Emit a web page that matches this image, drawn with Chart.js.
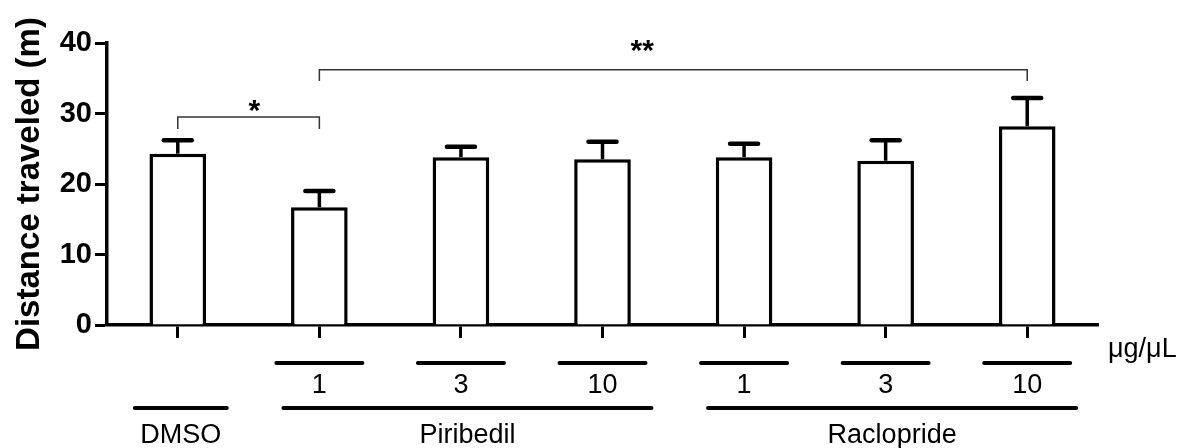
<!DOCTYPE html>
<html>
<head>
<meta charset="utf-8">
<script src="https://cdn.jsdelivr.net/npm/chart.js@4.4.0/dist/chart.umd.min.js"></script>
<style>body{margin:0;background:#fff}</style>
</head>
<body>
<canvas id="chart" width="1184" height="448"></canvas>
<script>
'use strict'
// values
const categories = ['DMSO', 'Piribedil 1', 'Piribedil 3', 'Piribedil 10', 'Raclopride 1', 'Raclopride 3', 'Raclopride 10'];
const doses = ['', '1', '3', '10', '1', '3', '10'];
const means = [24.3, 16.7, 23.8, 23.5, 23.8, 23.3, 28.2];
const sems = [1.9, 2.3, 1.5, 2.5, 1.9, 2.9, 4.0];
const groups = ['DMSO', 'Piribedil', 'Raclopride'];
const groupFirst = [0, 1, 4];
const groupLast = [0, 3, 6];
const yTicks = [0, 10, 20, 30, 40];
const unitLabel = 'μg/μL';
// significance brackets (in data units)
const sigFrom = [0, 1];
const sigTo = [1, 6];
const sigTop = [29.5, 36.2];
const sigFoot = [27.8, 34.6];
const sigLabel = ['*', '**'];
const sigLabelAt = [0.54, 3.28];
const sigLabelY = [29.1, 37.6];

const FONT = '"Liberation Sans", Arial, Helvetica, sans-serif';

function stroke(ctx, pts, w, color, cap) {
    ctx.save();
    ctx.beginPath();
    ctx.lineWidth = w;
    ctx.strokeStyle = color;
    ctx.lineCap = cap || 'butt';
    ctx.moveTo(pts[0], pts[1]);
    for (let i = 2; i < pts.length; i += 2) ctx.lineTo(pts[i], pts[i + 1]);
    ctx.stroke();
    ctx.restore();
}

const extras = {
    id: 'extras',
    afterDatasetsDraw(chart) {
        const ctx = chart.ctx;
        const x = chart.scales.x;
        const y = chart.scales.y;

        // error bars (upper only)
        means.forEach((m, i) => {
            const cx = x.getPixelForValue(i);
            const top = y.getPixelForValue(m + sems[i]);
            stroke(ctx, [cx, y.getPixelForValue(m), cx, top], 3.5, '#000');
            stroke(ctx, [cx - 14, top, cx + 14, top], 4.5, '#000', 'round');
        });

        // brackets
        sigFrom.forEach((f, i) => {
            const x1 = x.getPixelForValue(f);
            const x2 = x.getPixelForValue(sigTo[i]);
            const yt = y.getPixelForValue(sigTop[i]);
            const yf = y.getPixelForValue(sigFoot[i]);
            stroke(ctx, [x1, yf, x1, yt, x2, yt, x2, yf], 1.5, '#333');
            ctx.save();
            ctx.font = 'bold 30px ' + FONT;
            ctx.fillStyle = '#000';
            ctx.textAlign = 'center';
            ctx.textBaseline = 'alphabetic';
            ctx.fillText(sigLabel[i], x.getPixelForValue(sigLabelAt[i]), y.getPixelForValue(sigLabelY[i]));
            ctx.restore();
        });

        // labels below the axis
        const base = y.getPixelForValue(0);
        ctx.save();
        ctx.font = '27px ' + FONT;
        ctx.fillStyle = '#000';
        ctx.textAlign = 'center';
        ctx.textBaseline = 'alphabetic';
        doses.forEach((d, i) => {
            if (!d) return;
            const cx = x.getPixelForValue(i);
            stroke(ctx, [cx - 43, base + 38, cx + 43, base + 38], 4, '#000', 'round');
            ctx.fillText(d, cx, base + 68);
        });
        groups.forEach((g, i) => {
            const x1 = x.getPixelForValue(groupFirst[i]) - (groupFirst[i] === 0 ? 43 : 36);
            const x2 = x.getPixelForValue(groupLast[i]) + 49;
            stroke(ctx, [x1, base + 83, x2, base + 83], 4, '#000', 'round');
            ctx.fillText(g, (x1 + x2) / 2, base + 118);
        });
        ctx.textAlign = 'left';
        ctx.fillText(unitLabel, chart.chartArea.right + 10, base + 32);
        ctx.restore();
    }
};

new Chart(document.getElementById('chart'), {
    type: 'bar',
    data: {
        labels: categories,
        datasets: [{
            data: means,
            backgroundColor: '#fff',
            borderColor: '#000',
            borderWidth: 3.5,
            barPercentage: 0.4,
            categoryPercentage: 1
        }]
    },
    options: {
        responsive: false,
        animation: false,
        devicePixelRatio: 1,
        layout: {
            padding: { left: 10, top: 43, right: 86, bottom: 0 }
        },
        plugins: {
            legend: { display: false },
            tooltip: { enabled: false }
        },
        scales: {
            x: {
                offset: true,
                afterFit: s => { s.height = 123; },
                border: { display: true, color: '#000', width: 3.5 },
                grid: {
                    offset: false,
                    drawOnChartArea: false,
                    drawTicks: true,
                    tickLength: 13,
                    tickWidth: 3,
                    tickColor: '#000'
                },
                ticks: { display: false }
            },
            y: {
                min: 0,
                max: 40,
                afterBuildTicks: s => { s.ticks = yTicks.map(v => ({ value: v })); },
                afterFit: s => { s.width = 97; },
                border: { display: true, color: '#000', width: 3.5 },
                grid: {
                    drawOnChartArea: false,
                    drawTicks: true,
                    tickLength: 12,
                    tickWidth: 3,
                    tickColor: '#000'
                },
                ticks: {
                    color: '#000',
                    padding: 3,
                    font: { family: FONT, size: 29, weight: 'bold' }
                },
                title: {
                    display: true,
                    text: 'Distance traveled (m)',
                    color: '#000',
                    padding: 0,
                    font: { family: FONT, size: 33, weight: 'bold' }
                }
            }
        }
    },
    plugins: [extras]
});
</script>
</body>
</html>
